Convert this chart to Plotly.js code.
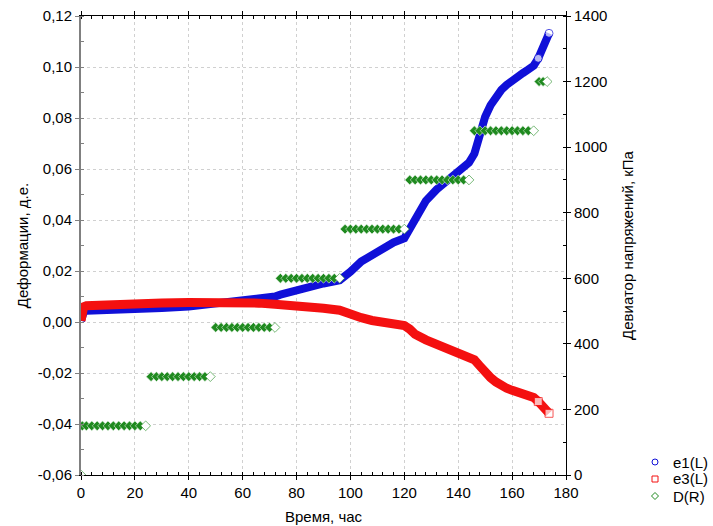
<!DOCTYPE html>
<html>
<head>
<meta charset="utf-8">
<script src="https://cdn.plot.ly/plotly-3.0.1.min.js"></script>
<style>html,body{margin:0;padding:0;background:#fff;}#chart{width:713px;height:526px;}</style>
</head>
<body>
<div id="chart"></div>
<script>
// Time (hours) for strain series
const tS = [0, 0.5, 1, 2, 5, 10, 20, 30, 40, 50, 60, 66, 72, 74, 80, 86, 90, 96, 98, 100, 104, 108, 112, 116, 120, 122, 124, 128, 132, 136, 140, 144, 146, 148, 150, 152, 154, 156, 158, 160, 162, 164, 166, 168, 169.7, 171, 172.5, 173.7];
// e1 strain (left axis)
const e1 = [0.0005, 0.0020, 0.0038, 0.0044, 0.0046, 0.0048, 0.0051, 0.0055, 0.0061, 0.0072, 0.0082, 0.0090, 0.0100, 0.0107, 0.0125, 0.0141, 0.0151, 0.0164, 0.0178, 0.0197, 0.0237, 0.0263, 0.0288, 0.0312, 0.0328, 0.0365, 0.0415, 0.0475, 0.0520, 0.0555, 0.0595, 0.0625, 0.0660, 0.0740, 0.0805, 0.0850, 0.0885, 0.0910, 0.0930, 0.0948, 0.0962, 0.0976, 0.0990, 0.1005, 0.1034, 0.1067, 0.1100, 0.1132];
// e3 strain (left axis)
const e3 = [0.0005, 0.0045, 0.0060, 0.0064, 0.0066, 0.0068, 0.0072, 0.0075, 0.0076, 0.0077, 0.0076, 0.0074, 0.0070, 0.0069, 0.0064, 0.0058, 0.0054, 0.0046, 0.0041, 0.0032, 0.0017, 0.0006, -0.0002, -0.0007, -0.0014, -0.0028, -0.0048, -0.0070, -0.0088, -0.0104, -0.0118, -0.0135, -0.0148, -0.0172, -0.0198, -0.0218, -0.0235, -0.0250, -0.0260, -0.0268, -0.0275, -0.0282, -0.0289, -0.0296, -0.0312, -0.0325, -0.0340, -0.0358];
// Time (hours) for deviator stress
const tD = [0, 0.5, 2, 4, 6, 8, 10, 12, 14, 16, 18, 20, 22, 24,
  26, 28, 30, 32, 34, 36, 38, 40, 42, 44, 46, 48,
  50, 52, 54, 56, 58, 60, 62, 64, 66, 68, 70, 72,
  74, 76, 78, 80, 82, 84, 86, 88, 90, 92, 94, 96,
  98, 100, 102, 104, 106, 108, 110, 112, 114, 116, 118, 120,
  122, 124, 126, 128, 130, 132, 134, 136, 138, 140, 142, 144,
  146, 148, 150, 152, 154, 156, 158, 160, 162, 164, 166, 168,
  170, 171.5, 173];
// Deviator stress D, kPa (right axis)
const D = [0, 150, 150, 150, 150, 150, 150, 150, 150, 150, 150, 150, 150, 150,
  300, 300, 300, 300, 300, 300, 300, 300, 300, 300, 300, 300,
  450, 450, 450, 450, 450, 450, 450, 450, 450, 450, 450, 450,
  600, 600, 600, 600, 600, 600, 600, 600, 600, 600, 600, 600,
  750, 750, 750, 750, 750, 750, 750, 750, 750, 750, 750, 750,
  900, 900, 900, 900, 900, 900, 900, 900, 900, 900, 900, 900,
  1050, 1050, 1050, 1050, 1050, 1050, 1050, 1050, 1050, 1050, 1050, 1050,
  1200, 1200, 1200];
// Tick labels
const yTickVals = [-0.06, -0.04, -0.02, 0, 0.02, 0.04, 0.06, 0.08, 0.10, 0.12];
const yTickText = ['-0,06', '-0,04', '-0,02', '0,00', '0,02', '0,04', '0,06', '0,08', '0,10', '0,12'];
const legendNames = ['e1(L)', 'e3(L)', 'D(R)'];
const xTitle = 'Время, час';
const yTitle = 'Деформации, д.е.';
const y2Title = 'Девиатор напряжений, кПа';

const BLUE = '#1010d8', RED = '#f41010', GREEN = '#1f8a1f';
const FONT = 'Liberation Sans, Arial, sans-serif';

// visible (white-filled) markers only at the end of the last-but-one run and at the very last point
const breakIdx = tS.indexOf(169.7);
const isEnd = tS.map((v, i) => i === tS.length - 1 || i === breakIdx);
const endSize = isEnd.map(e => e ? 8 : 0);
const dEnd = D.map((v, i) => i === D.length - 1 || D[i + 1] !== v);
const dFill = dEnd.map(e => e ? '#ffffff' : GREEN);
const dLine = dEnd.map(e => e ? GREEN : '#e8f3e8');

const traces = [
  {x: tS, y: e1, type: 'scatter', mode: 'lines+markers', name: legendNames[0], showlegend: false,
   line: {color: BLUE, width: 8}, marker: {symbol: 'circle', size: endSize, color: '#ffffff', line: {color: BLUE, width: 1}}},
  {x: tS, y: e3, type: 'scatter', mode: 'lines+markers', name: legendNames[1], showlegend: false,
   line: {color: RED, width: 9}, marker: {symbol: 'square', size: endSize, color: '#ffffff', line: {color: RED, width: 1}}},
  {x: tD, y: D, type: 'scatter', mode: 'markers', name: legendNames[2], showlegend: false, yaxis: 'y2',
   marker: {symbol: 'diamond', size: 7.5, color: dFill, line: {color: dLine, width: 0.6}}}
];

// legend (drawn in paper coordinates)
const L = 81, R = 566, T = 16, B = 475;
const px = x => (x - L) / (R - L);
const py = y => (B - y) / (B - T);
const lx = 655, ly = [462, 479, 496];
const shapes = [
  {type: 'circle', xref: 'paper', yref: 'paper', x0: px(lx - 3), x1: px(lx + 3), y0: py(ly[0] + 3), y1: py(ly[0] - 3),
   line: {color: BLUE, width: 1}, fillcolor: '#fff'},
  {type: 'rect', xref: 'paper', yref: 'paper', x0: px(lx - 3), x1: px(lx + 3), y0: py(ly[1] + 3), y1: py(ly[1] - 3),
   line: {color: RED, width: 1}, fillcolor: '#fff'},
  {type: 'path', xref: 'paper', yref: 'paper',
   path: `M ${px(lx - 3.5)},${py(ly[2])} L ${px(lx)},${py(ly[2] - 3.5)} L ${px(lx + 3.5)},${py(ly[2])} L ${px(lx)},${py(ly[2] + 3.5)} Z`,
   line: {color: GREEN, width: 1}, fillcolor: '#fff'}
];
const annotations = legendNames.map((n, i) => ({
  text: n, xref: 'paper', yref: 'paper', x: px(671), y: py(ly[i]), xanchor: 'left', yanchor: 'middle',
  showarrow: false, font: {family: FONT, size: 15, color: '#000'}
}));

const GRID = '#d0d0d0';
const layout = {
  width: 713, height: 526,
  margin: {l: L, r: 713 - R, t: T, b: 526 - B, pad: 0},
  paper_bgcolor: '#fff', plot_bgcolor: '#fff',
  showlegend: false,
  separators: ', ',
  font: {family: FONT, size: 15, color: '#000'},
  xaxis: {
    range: [0, 180], tick0: 0, dtick: 20, automargin: false,
    showgrid: true, gridcolor: GRID, griddash: 'dot', gridwidth: 1,
    zeroline: false, showline: true, linecolor: '#000', linewidth: 1, mirror: 'ticks',
    ticks: 'outside', ticklen: 4, tickcolor: '#000',
    minor: {dtick: 4, tick0: 0, ticks: 'inside', ticklen: 3, tickcolor: '#000', showgrid: false},
    tickfont: {family: FONT, size: 15, color: '#000'},
    title: {text: xTitle, font: {family: FONT, size: 15, color: '#000'}, standoff: 11}
  },
  yaxis: {
    range: [-0.06, 0.12], tickvals: yTickVals, ticktext: yTickText, automargin: false,
    showgrid: true, gridcolor: GRID, griddash: 'dot', gridwidth: 1,
    zeroline: false, showline: true, linecolor: '#808080', linewidth: 2,
    ticks: 'outside', ticklen: 4, tickcolor: '#808080',
    minor: {dtick: 0.01, tick0: 0, ticks: 'inside', ticklen: 3, tickcolor: '#808080', showgrid: false},
    tickfont: {family: FONT, size: 15, color: '#000'},
    title: {text: yTitle, font: {family: FONT, size: 15, color: '#000'}, standoff: 6}
  },
  yaxis2: {
    range: [0, 1400], tick0: 0, dtick: 200, overlaying: 'y', side: 'right', automargin: false,
    showgrid: false, zeroline: false, showline: true, linecolor: '#000', linewidth: 1,
    ticks: 'outside', ticklen: 4, tickcolor: '#000',
    minor: {dtick: 100, tick0: 0, ticks: 'inside', ticklen: 3, tickcolor: '#000', showgrid: false},
    tickfont: {family: FONT, size: 15, color: '#000'},
    title: {text: y2Title, font: {family: FONT, size: 15, color: '#000'}, standoff: 16}
  },
  shapes: shapes,
  annotations: annotations
};

Plotly.newPlot('chart', traces, layout, {displayModeBar: false, staticPlot: true});
</script>
</body>
</html>
